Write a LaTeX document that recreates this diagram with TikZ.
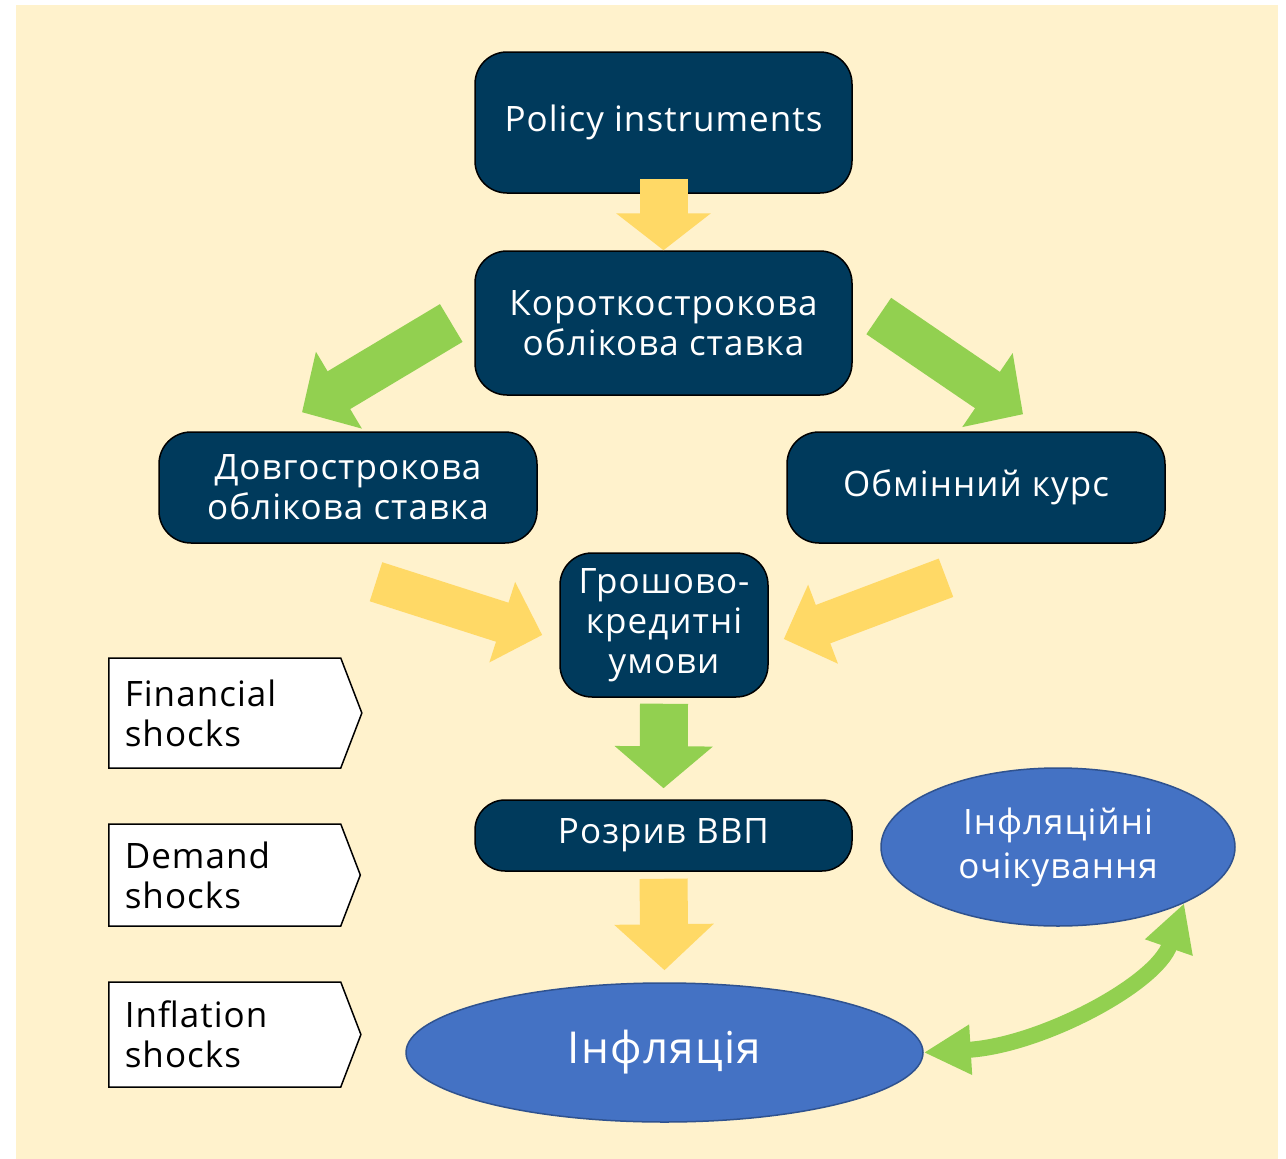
\documentclass[tikz,border=0pt]{standalone}
\usepackage{fontspec}
\setmainfont{Open Sans}[LetterSpace=3]
\usetikzlibrary{shapes.geometric,shapes.symbols,arrows.meta,positioning,calc}
\definecolor{creambg}{RGB}{255,242,204}
\definecolor{navyfill}{RGB}{0,58,92}
\definecolor{arrowyellow}{RGB}{255,217,102}
\definecolor{arrowgreen}{RGB}{146,208,80}
\definecolor{ovalblue}{RGB}{68,114,196}
\definecolor{ovalborder}{RGB}{47,82,143}

\begin{document}
\begin{tikzpicture}[x=1pt, y=-1pt,
    navy/.style={draw=black, line width=1.5pt, fill=navyfill, rounded corners=32pt, text=white, align=center, inner sep=0pt, font=\fontsize{35}{40}\selectfont},
    oval/.style={ellipse, draw=ovalborder, line width=1.5pt, fill=ovalblue, text=white, align=center, inner sep=0pt},
    shock/.style={signal, signal to=east, signal pointer angle=138, draw=black, line width=1.5pt, fill=white, text width=200pt, align=left, inner xsep=16pt, anchor=west, font=\fontsize{35}{40}\selectfont},
    block/.style n args={4}{draw=#1, line width=#2, -{Triangle[length=#3, width=#4]}},
]
    % Background
    \useasboundingbox (0,0) rectangle (1286,1159);
    \fill[creambg] (16,5) rectangle (1278,1159);

    % Main boxes
    \node[navy, minimum width=377pt, minimum height=141pt] (policy) at (663.5,122.5) {Policy instruments};
    \node[navy, minimum width=377pt, minimum height=144pt] (short) at (663.5,323) {Короткострокова\\облікова ставка};
    \node[navy, minimum width=378pt, minimum height=111pt] (long) at (348,487.5) {Довгострокова\\облікова ставка};
    \node[navy, minimum width=378pt, minimum height=111pt] (fx) at (976,487.5) {Обмінний курс};
    \node[navy, minimum width=208pt, minimum height=144pt] (cond) at (664,625) {Грошово-\\кредитні\\умови};
    \node[navy, minimum width=377pt, minimum height=71pt, rounded corners=30pt] (gap) at (663.5,835.5) {Розрив ВВП};

    % Ovals
    \node[oval, minimum width=517pt, minimum height=139pt, font=\fontsize{44}{50}\selectfont] (infl) at (664.5,1052.5) {Інфляція};
    \node[oval, minimum width=354pt, minimum height=158pt, font=\fontsize{35}{44}\selectfont] (expect) at (1058,847) {Інфляційні\\очікування};

    % Shocks on the left
    \node[shock, minimum height=110pt] (finsh) at (108,713) {Financial\\shocks};
    \node[shock, minimum height=102pt] (demsh) at (108,875) {Demand\\shocks};
    \node[shock, minimum height=105pt] (inflsh) at (108,1034.5) {Inflation\\shocks};

    % Block arrows
    \draw[block={arrowyellow}{48pt}{37pt}{93pt}] ([yshift=15pt]policy.south) -- (short.north);
    \draw[block={arrowgreen}{44pt}{43pt}{87pt}] ($(short.west)+(-23,0)$) -- ($(long.north)+(-46,-19)$);
    \draw[block={arrowgreen}{44pt}{43pt}{87pt}] ($(short.east)+(26,-7)$) -- ($(fx.north)+(47,-17)$);
    \draw[block={arrowyellow}{41pt}{42pt}{82pt}] ($(long.south)+(28,38)$) -- ($(cond.west)+(-17,10)$);
    \draw[block={arrowyellow}{41pt}{42pt}{82pt}] ($(fx.south)+(-30,34)$) -- ($(cond.east)+(15,14)$);
    \draw[block={arrowgreen}{48pt}{42pt}{96pt}] ($(cond.south)+(0,6)$) -- ($(gap.north)+(0,-11)$);
    \draw[block={arrowyellow}{48pt}{46pt}{97pt}] ($(gap.south)+(0,7)$) -- ($(infl.north)+(0,-12)$);

    % Feedback between inflation and expectations
    \draw[arrowgreen, line width=16pt, {Triangle[length=47pt, width=47pt]}-{Triangle[length=47pt, width=47pt]}]
        (infl.east) .. controls ($(infl.east)+(117,-7)$) and ($(expect.-24.5)+(-28,81)$) .. (expect.-24.5);
\end{tikzpicture}
\end{document}
